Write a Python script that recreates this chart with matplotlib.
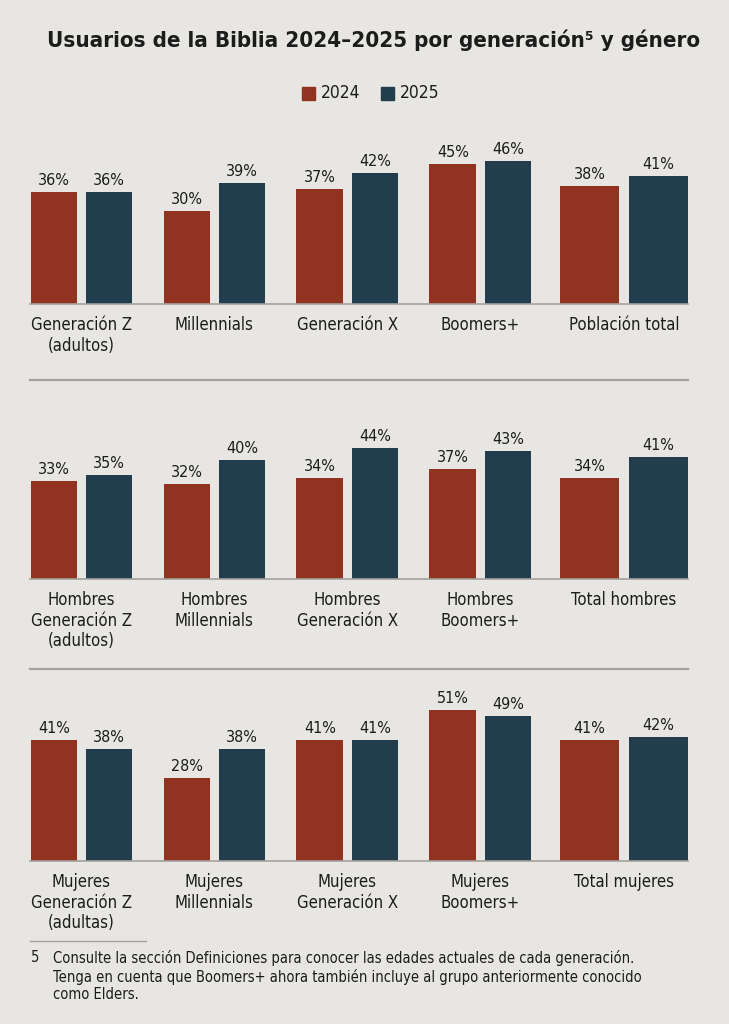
import numpy as np
import matplotlib
matplotlib.use("Agg")
import matplotlib.pyplot as plt
from matplotlib import font_manager

# -------------------------------
# Data
# -------------------------------
years = ["2024", "2025"]

cats_total = ["Generación Z\n(adultos)", "Millennials", "Generación X", "Boomers+", "Población total"]
total_2024 = [36, 30, 37, 45, 38]
total_2025 = [36, 39, 42, 46, 41]

cats_men = ["Hombres\nGeneración Z\n(adultos)", "Hombres\nMillennials", "Hombres\nGeneración X",
            "Hombres\nBoomers+", "Total hombres"]
men_2024 = [33, 32, 34, 37, 34]
men_2025 = [35, 40, 44, 43, 41]

cats_women = ["Mujeres\nGeneración Z\n(adultas)", "Mujeres\nMillennials", "Mujeres\nGeneración X",
              "Mujeres\nBoomers+", "Total mujeres"]
women_2024 = [41, 28, 41, 51, 41]
women_2025 = [38, 38, 41, 49, 42]

title = "Usuarios de la Biblia 2024–2025 por generación⁵ y género"
footnote = ("Consulte la sección Definiciones para conocer las edades actuales de cada generación.\n"
            "Tenga en cuenta que Boomers+ ahora también incluye al grupo anteriormente conocido\n"
            "como Elders.")

# -------------------------------
# Fonts: prefer a condensed face if one is installed
# -------------------------------
cond = None
for f in font_manager.fontManager.ttflist:
    if ("Narrow" in f.name or "Condensed" in f.name or f.stretch in ("condensed", "semi-condensed")) \
            and f.weight in (400, "normal", "regular") and f.style == "normal":
        cond = f
        break

if cond is not None:
    plt.rcParams["font.family"] = [cond.name, "DejaVu Sans"]
    plt.rcParams["font.stretch"] = "condensed"
    FS_VAL, FS_CAT, FS_TITLE, FS_LEG, FS_FOOT = 11.5, 12, 16, 12.5, 10.5
else:
    plt.rcParams["font.family"] = ["Liberation Sans", "DejaVu Sans"]
    FS_VAL, FS_CAT, FS_TITLE, FS_LEG, FS_FOOT = 11, 11, 15.5, 12, 9.8

BG = "#e7e6e2"
RED = "#923220"
NAVY = "#223d4d"
LINE = "#a3a19c"
TXT = "#1c1c1c"

W, H = 729, 1024
fig = plt.figure(figsize=(W / 100, H / 100), dpi=100, facecolor=BG)

# group layout (last group is a bit wider)
group_x = np.array([0, 1, 2, 3, 4.08])
bar_w = np.array([0.35, 0.35, 0.35, 0.35, 0.44])
offs = np.array([0.207, 0.207, 0.207, 0.207, 0.26])
X0, X1 = -0.386, 4.562

panels = [
    (cats_total, total_2024, total_2025, 304, 3.11),
    (cats_men, men_2024, men_2025, 579, 2.98),
    (cats_women, women_2024, women_2025, 861, 2.96),
]

YMAX = 55
for cats, a, b, base_px, scale in panels:
    ax = fig.add_axes([30 / W, 1 - base_px / H, 658 / W, YMAX * scale / H])
    ax.set_facecolor("none")
    ax.bar(group_x - offs, a, width=bar_w, color=RED, zorder=2)
    ax.bar(group_x + offs, b, width=bar_w, color=NAVY, zorder=2)
    ax.set_xlim(X0, X1)
    ax.set_ylim(0, YMAX)
    for s in ["top", "right", "left"]:
        ax.spines[s].set_visible(False)
    ax.spines["bottom"].set_color(LINE)
    ax.spines["bottom"].set_linewidth(1.2)
    ax.set_yticks([])
    ax.set_xticks([])
    for xs, vals in [(group_x - offs, a), (group_x + offs, b)]:
        for x, v in zip(xs, vals):
            ax.annotate(f"{v}%", (x, v), xytext=(0, 7), textcoords="offset pixels",
                        ha="center", va="baseline", fontsize=FS_VAL, color=TXT)
    for x, c in zip(group_x, cats):
        ax.annotate(c, (x, 0), xytext=(0, -12), textcoords="offset pixels",
                    ha="center", va="top", fontsize=FS_CAT, color=TXT, linespacing=1.18)

# separators between panels
for y_px in [380, 669]:
    fig.add_artist(plt.Line2D([30 / W, 688 / W], [1 - y_px / H] * 2, color=LINE, lw=1.6))

# title and legend
fig.text(374 / W, 1 - 40 / H, title, ha="center", va="center", fontsize=FS_TITLE,
         fontweight="bold", color=TXT)
for sx, col, lab in [(302, RED, years[0]), (381, NAVY, years[1])]:
    fig.add_artist(plt.Rectangle((sx / W, 1 - 100 / H), 13 / W, 13 / H, color=col))
    fig.text((sx + 19) / W, 1 - 93.5 / H, lab, ha="left", va="center", fontsize=FS_LEG, color=TXT)

# footnote
fig.add_artist(plt.Line2D([30 / W, 146 / W], [1 - 941 / H] * 2, color=LINE, lw=1))
fig.text(31 / W, 1 - 950 / H, "5", ha="left", va="top", fontsize=FS_FOOT, color=TXT)
fig.text(53 / W, 1 - 950 / H, footnote, ha="left", va="top", fontsize=FS_FOOT,
         color=TXT, linespacing=1.2)

fig.savefig("out.png", dpi=100, facecolor=BG)
